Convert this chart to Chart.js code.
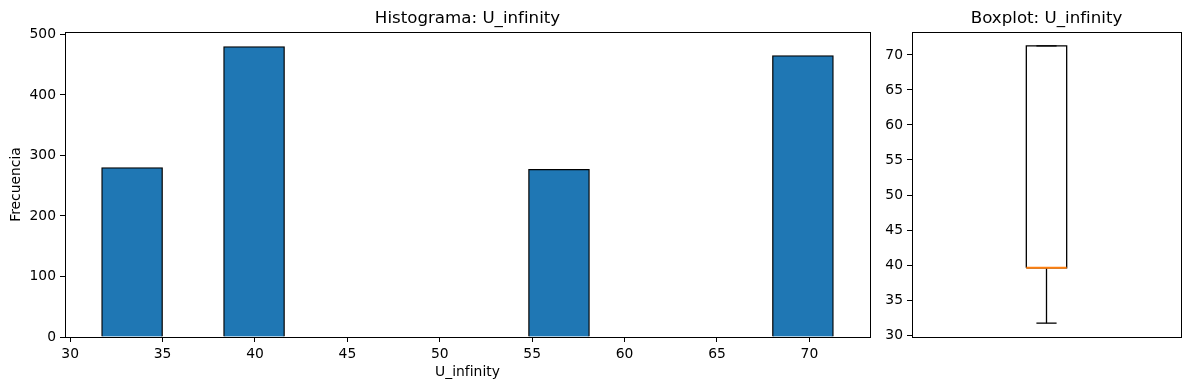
<!DOCTYPE html>
<html lang="es">
<head>
    <meta charset="UTF-8">
    <title>Histograma y Boxplot: U_infinity</title>
    <script src="https://cdn.jsdelivr.net/npm/chart.js"></script>
    <style>
        body { margin: 0; background: #fff; }
        #histChart { position: absolute; left: 0; top: 0; }
        #boxChart { position: absolute; left: 880px; top: 0; }
    </style>
</head>
<body>
    <canvas id="histChart" width="880" height="390"></canvas>
    <canvas id="boxChart" width="309" height="390"></canvas>

    <script>
        // histogram bins (12 bins between min and max of U_infinity)
        const binEdges = [31.7, 35.0, 38.3, 41.6, 44.9, 48.2, 51.5, 54.8, 58.1, 61.4, 64.7, 68.0, 71.3];
        const binCounts = [280, 0, 480, 0, 0, 0, 0, 277, 0, 0, 0, 465];
        const histXTicks = [30, 35, 40, 45, 50, 55, 60, 65, 70];
        const histYTicks = [0, 100, 200, 300, 400, 500];

        // boxplot summary: whisker low, Q1, median, Q3, whisker high
        const boxStats = [31.7, 39.6, 39.6, 71.3, 71.3];
        const boxYTicks = [30, 35, 40, 45, 50, 55, 60, 65, 70];

        const font = { family: 'DejaVu Sans', size: 13.89 };
        const titleFont = { family: 'DejaVu Sans', size: 16.67, weight: 'normal' };

        // draws the full axes frame (matplotlib style spines)
        const framePlugin = {
            id: 'frame',
            afterDraw(chart) {
                const a = chart.chartArea;
                const c = chart.ctx;
                c.save();
                c.strokeStyle = '#000';
                c.lineWidth = 1;
                c.strokeRect(Math.round(a.left) + 0.5, Math.round(a.top) + 0.5,
                    Math.round(a.right - a.left), Math.round(a.bottom - a.top));
                c.restore();
            }
        };

        function tickAxis(extra) {
            return Object.assign({
                offset: false,
                grid: { drawOnChartArea: false, drawTicks: true, tickLength: 5, color: '#000', offset: false },
                border: { display: true, color: '#000' }
            }, extra);
        }

        const histPoints = binCounts.map((n, i) => ({ x: (binEdges[i] + binEdges[i + 1]) / 2, y: n }));
        const xMin = binEdges[0], xMax = binEdges[binEdges.length - 1];
        const xPad = (xMax - xMin) * 0.05;
        const yTop = Math.max(...binCounts) * 1.05;

        new Chart(document.getElementById('histChart'), {
            type: 'bar',
            data: {
                datasets: [{
                    data: histPoints,
                    backgroundColor: '#1f77b4',
                    borderColor: '#000',
                    borderWidth: 1.3,
                    borderSkipped: 'start',
                    barPercentage: 1,
                    categoryPercentage: 1
                }]
            },
            options: {
                responsive: false,
                animation: false,
                layout: { padding: { left: 0, right: 10, top: 0, bottom: 0 } },
                plugins: {
                    legend: { display: false },
                    tooltip: { enabled: false },
                    title: {
                        display: true, text: 'Histograma: U_infinity', color: '#000',
                        font: titleFont, fullSize: false, padding: { top: 9, bottom: 3 }
                    }
                },
                scales: {
                    x: tickAxis({
                        type: 'linear', min: xMin - xPad, max: xMax + xPad,
                        afterBuildTicks(s) { s.ticks = histXTicks.map(v => ({ value: v })); },
                        afterFit(s) { s.height = 53; },
                        ticks: { color: '#000', font: font, padding: 4, maxRotation: 0, autoSkip: false },
                        title: { display: true, text: 'U_infinity', color: '#000', font: font, padding: { top: 0, bottom: 9 } }
                    }),
                    y: tickAxis({
                        min: 0, max: yTop,
                        afterBuildTicks(s) { s.ticks = histYTicks.map(v => ({ value: v })); },
                        afterFit(s) { s.width = 65; },
                        ticks: { color: '#000', font: font, padding: 4 },
                        title: { display: true, text: 'Frecuencia', color: '#000', font: font, padding: { top: 8, bottom: 0 } }
                    })
                }
            },
            plugins: [framePlugin]
        });

        // boxplot built from line segments on a linear x scale (box width 0.15 around x = 1)
        const [wLow, q1, med, q3, wHigh] = boxStats;
        const bx0 = 0.925, bx1 = 1.075, cx0 = 0.9625, cx1 = 1.0375;
        const seg = (pts, color, order, w) => ({
            data: pts.map(p => ({ x: p[0], y: p[1] })),
            showLine: true, borderColor: color, borderWidth: w || 1.3,
            pointRadius: 0, fill: false, tension: 0, order: order
        });
        const bMin = wLow - (wHigh - wLow) * 0.05, bMax = wHigh + (wHigh - wLow) * 0.05;

        new Chart(document.getElementById('boxChart'), {
            type: 'scatter',
            data: {
                datasets: [
                    seg([[bx0, q1], [bx1, q1], [bx1, q3], [bx0, q3], [bx0, q1]], '#000', 2),
                    seg([[1, q1], [1, wLow]], '#000', 2),
                    seg([[1, q3], [1, wHigh]], '#000', 2),
                    seg([[cx0, wLow], [cx1, wLow]], '#000', 2),
                    seg([[cx0, wHigh], [cx1, wHigh]], '#000', 2),
                    seg([[bx0, med], [bx1, med]], '#ff7f0e', 0, 2)
                ]
            },
            options: {
                responsive: false,
                animation: false,
                layout: { padding: { left: 0, right: 8, top: 0, bottom: 53 } },
                plugins: {
                    legend: { display: false },
                    tooltip: { enabled: false },
                    title: {
                        display: true, text: 'Boxplot: U_infinity', color: '#000',
                        font: titleFont, fullSize: false, padding: { top: 9, bottom: 3 }
                    }
                },
                scales: {
                    x: { type: 'linear', min: 0.5, max: 1.5, display: false },
                    y: tickAxis({
                        min: bMin, max: bMax,
                        afterBuildTicks(s) { s.ticks = boxYTicks.map(v => ({ value: v })); },
                        afterFit(s) { s.width = 32; },
                        ticks: { color: '#000', font: font, padding: 4 }
                    })
                }
            },
            plugins: [framePlugin]
        });
    </script>
</body>
</html>
